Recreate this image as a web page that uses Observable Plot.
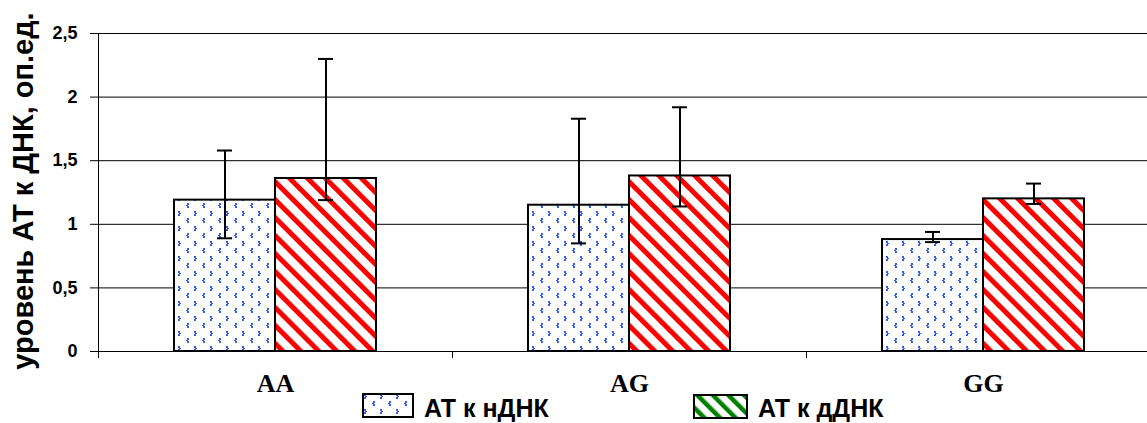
<!DOCTYPE html>
<html>
<head>
<meta charset="utf-8">
<script src="https://cdn.jsdelivr.net/npm/d3@7"></script>
<script src="https://cdn.jsdelivr.net/npm/@observablehq/plot@0.6"></script>
<style>
  html, body { margin: 0; padding: 0; background: #fff; overflow: hidden; }
  #wrap { position: relative; width: 1147px; height: 423px; }
  #ylabel { position: absolute; left: 23px; top: 191px; transform: translate(-50%, -50%) rotate(-90deg);
    white-space: nowrap; font: bold 29px "Liberation Sans", Arial, sans-serif; line-height: 29px; color: #000; }
  .leg { position: absolute; font: bold 25px "Liberation Sans", Arial, sans-serif; line-height: 25px; white-space: nowrap; color: #000; }
  .sw { position: absolute; }
</style>
</head>
<body>
<svg width="0" height="0" style="position:absolute">
  <defs>
    <pattern id="dots" patternUnits="userSpaceOnUse" width="16" height="15">
      <rect width="16" height="15" fill="#fff"/>
      <g fill="#2f5ff5">
        <rect x="2" y="1" width="2" height="2"/><rect x="3" y="3" width="2" height="1"/><rect x="2" y="4" width="2" height="2"/>
        <rect x="11" y="8" width="2" height="2"/><rect x="10" y="10" width="2" height="1"/><rect x="11" y="11" width="2" height="2"/>
      </g>
    </pattern>
    <pattern id="stripesRed" patternUnits="userSpaceOnUse" width="12.7" height="12.7" patternTransform="rotate(-45)">
      <rect width="12.7" height="12.7" fill="#fff"/>
      <rect x="0" y="0" width="5" height="12.7" fill="#ff0000"/>
    </pattern>
    <pattern id="stripesGreen" patternUnits="userSpaceOnUse" width="11" height="11" patternTransform="rotate(-45)">
      <rect width="11" height="11" fill="#fff"/>
      <rect x="0" y="0" width="4.5" height="11" fill="#008000"/>
    </pattern>
  </defs>
</svg>
<div id="wrap">
  <div id="chart"></div>
  <div id="ylabel">уровень АТ к ДНК, оп.ед.</div>
  <svg class="sw" style="left:362px;top:393px" width="52" height="25"><rect x="1" y="1" width="50" height="23" fill="url(#dots)" stroke="#000" stroke-width="2"/></svg>
  <div class="leg" style="left:424px;top:396px">АТ к нДНК</div>
  <svg class="sw" style="left:693px;top:394px" width="55" height="25"><rect x="1" y="1" width="53" height="23" fill="url(#stripesGreen)" stroke="#000" stroke-width="2"/></svg>
  <div class="leg" style="left:758px;top:396px">АТ к дДНК</div>
</div>
<script>
const categories = ["AA", "AG", "GG"];
const seriesNames = ["АТ к нДНК", "АТ к дДНК"];
const meanN = [1.19, 1.15, 0.88];
const lowN  = [0.89, 0.85, 0.86];
const highN = [1.58, 1.83, 0.94];
const meanD = [1.36, 1.38, 1.20];
const lowD  = [1.19, 1.14, 1.16];
const highD = [2.30, 1.92, 1.32];
const yTicks = [0, 0.5, 1, 1.5, 2, 2.5];
const yTickLabels = ["0", "0,5", "1", "1,5", "2", "2,5"];

const rows = categories.flatMap((c, i) => [
  {cat: c, series: seriesNames[0], value: meanN[i], lo: lowN[i], hi: highN[i]},
  {cat: c, series: seriesNames[1], value: meanD[i], lo: lowD[i], hi: highD[i]}
]);

const chart = Plot.plot({
  width: 1147,
  height: 423,
  marginLeft: 98,
  marginRight: -13,
  marginTop: 33,
  marginBottom: 72,
  facet: {data: rows, x: "cat"},
  fx: {domain: categories, padding: 0, label: null, tickSize: 0, tickPadding: 22, axis: "bottom"},
  x: {domain: seriesNames, paddingInner: 0, paddingOuter: 0.75, axis: null},
  y: {domain: [0, 2.5], ticks: yTicks, tickFormat: d => yTickLabels[yTicks.indexOf(d)],
      tickSize: 8, tickPadding: 13, label: null, line: true},
  marks: [
    Plot.ruleY(yTicks, {stroke: "#000", strokeWidth: 1, facet: false}),
    Plot.barY(rows, {filter: d => d.series === seriesNames[0], x: "series", y: "value",
      fill: "url(#dots)", stroke: "#000", strokeWidth: 2}),
    Plot.barY(rows, {filter: d => d.series === seriesNames[1], x: "series", y: "value",
      fill: "url(#stripesRed)", stroke: "#000", strokeWidth: 2}),
    Plot.ruleX(rows, {x: "series", y1: "lo", y2: "hi", stroke: "#000", strokeWidth: 2}),
    Plot.tickY(rows, {x: "series", y: "lo", stroke: "#000", strokeWidth: 2, insetLeft: 43, insetRight: 43}),
    Plot.tickY(rows, {x: "series", y: "hi", stroke: "#000", strokeWidth: 2, insetLeft: 43, insetRight: 43})
  ]
});
document.getElementById("chart").appendChild(chart);

// style axis texts
d3.select(chart).selectAll("text").each(function() {
  const t = this.textContent;
  const s = d3.select(this);
  if (categories.includes(t)) {
    s.style("font-family", '"Liberation Serif", "Times New Roman", serif').style("font-size", "26px").style("font-weight", "bold");
  } else if (yTickLabels.includes(t)) {
    s.style("font-family", '"Liberation Sans", Arial, sans-serif').style("font-size", "18px").style("font-weight", "bold");
  }
});

// category separator tick marks on the bottom axis, placed through Plot's own scales
const fx = chart.scale("fx");
const ys = chart.scale("y");
const starts = categories.map(c => fx.apply(c));
const step = starts[1] - starts[0];
const bounds = starts.concat([starts[starts.length - 1] + step]);
const y0 = ys.apply(0);
d3.select(chart).append("g").attr("stroke", "#000")
  .selectAll("line").data(bounds).join("line")
  .attr("x1", d => Math.round(d) + 0.5).attr("x2", d => Math.round(d) + 0.5)
  .attr("y1", y0).attr("y2", y0 + 7);
</script>
</body>
</html>
